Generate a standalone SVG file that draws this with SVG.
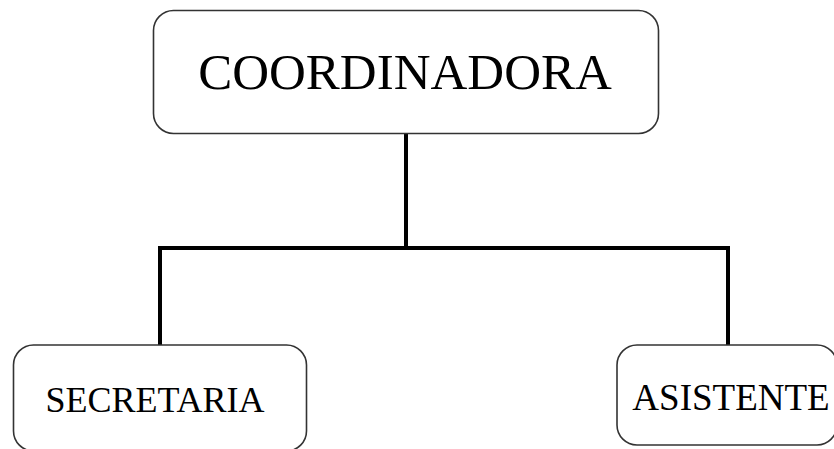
<svg xmlns="http://www.w3.org/2000/svg" width="834" height="449" viewBox="0 0 834 449">
<style>
.box{fill:#fff;stroke:#333;stroke-width:1.6}
.lbl{font-family:"Liberation Serif","Times New Roman",serif;fill:#000;text-anchor:middle}
.conn{fill:none;stroke:#000;stroke-width:4;stroke-linejoin:miter}
</style>
<rect width="834" height="449" fill="#fff"/>
<g id="connectors">
<path class="conn" d="M406,133 V248"/>
<path class="conn" d="M160,345 V248 H728 V345"/>
</g>
<g id="coordinadora">
<rect class="box" x="153.5" y="10.5" width="505" height="123" rx="20"/>
<text class="lbl" x="405" y="89" font-size="51">COORDINADORA</text>
</g>
<g id="secretaria">
<rect class="box" x="13.5" y="345" width="293" height="106" rx="20"/>
<text class="lbl" x="155" y="412" font-size="36">SECRETARIA</text>
</g>
<g id="asistente">
<rect class="box" x="617" y="345" width="220" height="100" rx="20"/>
<text class="lbl" x="731" y="410" font-size="37">ASISTENTE</text>
</g>
</svg>
